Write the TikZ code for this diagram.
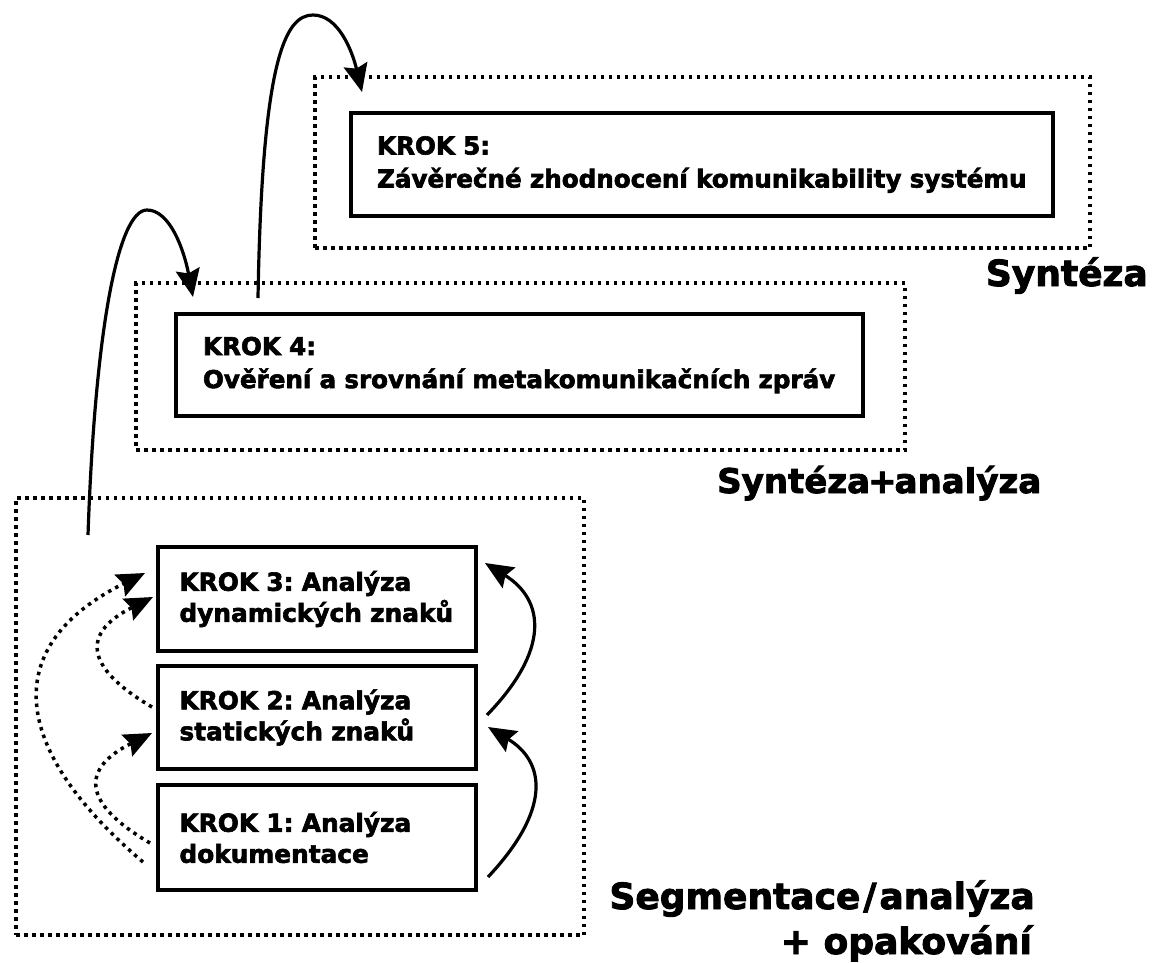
\documentclass[tikz,border=0pt]{standalone}
\usepackage{fontspec}
\setmainfont{DejaVu Sans}
\newfontfamily\heavy{DejaVu Sans Bold}[FakeBold=2.5]
\usetikzlibrary{arrows.meta,calc}
\begin{document}
\frenchspacing
\begin{tikzpicture}[x=1pt,y=-1pt,
  krok/.style={draw,line width=3.5pt,rectangle,inner sep=0pt,align=left,
     font=\fontsize{24.8}{31}\selectfont\heavy},
  bigkrok/.style={krok,font=\fontsize{24.6}{33}\selectfont\heavy},
  group/.style={draw,line width=3.5pt,dash pattern=on 3.5pt off 4.5pt,rectangle,inner sep=0pt},
  lbl/.style={font=\fontsize{36}{52}\selectfont\heavy,inner sep=0pt,align=right},
  arr/.style={line width=3.2pt,-{Stealth[length=28pt,width=24pt,inset=4pt]}},
  darr/.style={line width=3.5pt,dash pattern=on 3.5pt off 4.5pt,-{Stealth[length=28pt,width=24pt,inset=4pt]}}
]
\useasboundingbox (0,0) rectangle (1154,962);

% group boxes
\node[group,minimum width=775pt,minimum height=171pt] (g5) at (702.5,162.5) {};
\node[group,minimum width=769pt,minimum height=167pt] (g4) at (520.5,366.5) {};
\node[group,minimum width=568pt,minimum height=437pt] (g1) at (300,716.5) {};

% step boxes
\node[bigkrok,minimum width=702pt,minimum height=103pt,text width=650pt] (k5) at (702,164.5)
  {KROK 5:\\\mbox{Závěrečné zhodnocení komunikability systému}};
\node[bigkrok,minimum width=687pt,minimum height=102pt,text width=633pt] (k4) at (519.5,365)
  {KROK 4:\\\mbox{Ověření a srovnání metakomunikačních zpráv}};
\node[krok,minimum width=318pt,minimum height=104pt,text width=275pt] (k3) at (317,599)
  {KROK 3: Analýza\\dynamických znaků};
\node[krok,minimum width=318pt,minimum height=103pt,text width=275pt] (k2) at (317,717.5)
  {KROK 2: Analýza\\statických znaků};
\node[krok,minimum width=318pt,minimum height=105pt,text width=275pt] (k1) at (317,837.5)
  {KROK 1: Analýza\\dokumentace};

% labels
\node[lbl,anchor=base east] (l5) at (1148,286) {Syntéza};
\node[lbl,anchor=base west,font=\fontsize{34}{48}\selectfont\heavy] (l4) at (717,493)
  {Syntéza\kern-2pt+\kern-2pt analýza};
\node[lbl,anchor=base east] (l1a) at (1035,909) {Segmentace\kern3pt/\kern3pt analýza};
\node[lbl,anchor=base east] (l1b) at (1032,954) {+ opakování};

% connector ends
\coordinate (s45) at (258,298);
\coordinate (t45) at (362,92);
\coordinate (s14) at (88,535);
\coordinate (t14) at (193,297);
\coordinate (s23r) at (487,715);
\coordinate (t23r) at (485,563);
\coordinate (s12r) at (488,877);
\coordinate (t12r) at (488,727);
\coordinate (s13d) at (143,862);
\coordinate (t13d) at (145,573);
\coordinate (s12d) at (150,843);
\coordinate (t12d) at (152,733);
\coordinate (s23d) at (152,707);
\coordinate (t23d) at (153,597);

% solid arrows
\draw[arr] (s45) .. controls (262,60) and (285,15) .. (313,15)
  .. controls (338,15) and (352,50) .. (t45);
\draw[arr] (s14) .. controls (95,330) and (118,210) .. (147,210)
  .. controls (170,210) and (184,250) .. (t14);
\draw[arr] (s23r) .. controls (550,650) and (545,600) .. (t23r);
\draw[arr] (s12r) .. controls (551,810) and (546,762) .. (t12r);

% dotted arrows
\draw[darr] (s13d) .. controls (8,747) and (0,645) .. (t13d);
\draw[darr] (s12d) .. controls (80,802) and (82,768) .. (t12d);
\draw[darr] (s23d) .. controls (82,666) and (83,632) .. (t23d);
\end{tikzpicture}
\end{document}
